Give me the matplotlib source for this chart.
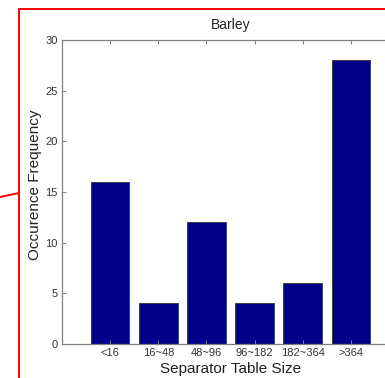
import numpy as np
import matplotlib.pyplot as plt
from matplotlib.patches import Rectangle
from matplotlib.lines import Line2D

plt.rcParams['font.family'] = ['Liberation Sans', 'DejaVu Sans']

bins = ["<16", "16~48", "48~96", "96~182", "182~364", ">364"]
counts = [16, 4, 12, 4, 6, 28]

W, H = 385, 378
fig = plt.figure(figsize=(W / 100, H / 100), dpi=100)

# axes run past the right edge of the canvas
ax = fig.add_axes([62 / W, 1 - 344 / H, 337 / W, 304 / H])
x = np.arange(1, len(bins) + 1)
ax.bar(x, counts, width=0.8, color="#000088", edgecolor="#333333", linewidth=0.6)

ax.set_xlim(0, 7)
ax.set_ylim(0, 30)
ax.set_xticks(x)
ax.set_xticklabels(bins)
ax.set_yticks(np.arange(0, 31, 5))
ax.tick_params(direction="in", length=3, width=0.7, colors="#808080",
               labelcolor="#333333", labelsize=8, top=True, right=True, pad=3)
for s in ax.spines.values():
    s.set_color("#808080")
    s.set_linewidth(0.9)

ax.set_title("Barley", fontsize=10, color="#222222", pad=8)
ax.set_xlabel("Separator Table Size", fontsize=11, color="#222222", labelpad=3)
ax.set_ylabel("Occurence Frequency", fontsize=11, color="#222222")
ax.yaxis.set_label_coords(-20 / 337, 0.523)

# red callout frame and its leader line
fig.patches.append(Rectangle((19 / W, -0.1), 1.0, 1.1 - 9 / H,
                             transform=fig.transFigure, fill=False,
                             edgecolor="red", linewidth=1.4))
fig.lines.append(Line2D([0, 19 / W], [1 - 197 / H, 1 - 193 / H],
                        transform=fig.transFigure, color="red", linewidth=1.4))

fig.savefig("out.png", dpi=100)
